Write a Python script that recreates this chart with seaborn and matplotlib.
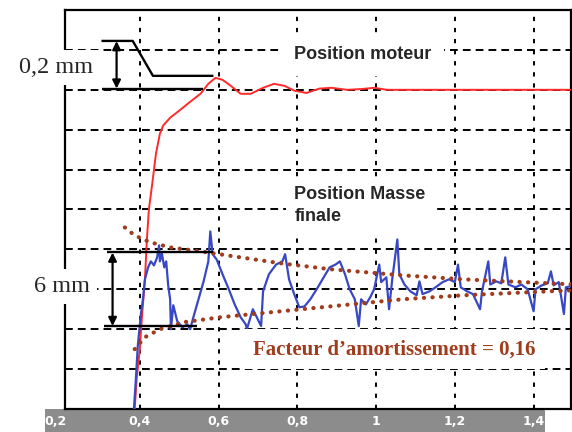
import matplotlib
matplotlib.use("Agg")
import matplotlib.pyplot as plt
import seaborn as sns
import numpy as np
import pandas as pd
from matplotlib.patches import Rectangle
from matplotlib.ticker import MultipleLocator, FixedLocator

# ---------------- data (time in s, position in grid divisions) ----------------
moteur_t = [0.387, 0.392, 0.400, 0.405, 0.413, 0.418, 0.423, 0.431, 0.441, 0.451,
            0.459, 0.477, 0.503, 0.528, 0.554, 0.574, 0.592, 0.610, 0.631, 0.656,
            0.682, 0.713, 0.741, 0.767, 0.792, 0.823, 0.856, 0.887, 0.926, 0.964,
            0.995, 1.028, 1.508]
moteur_y = [0.0, 0.75, 1.5, 2.25, 3.25, 4.25, 5.0, 5.6, 6.4, 6.9,
            7.1, 7.3, 7.5, 7.7, 7.9, 8.15, 8.3, 8.25, 8.1, 7.9,
            7.9, 8.05, 8.15, 8.1, 7.98, 7.92, 8.03, 8.05, 8.0, 8.02,
            8.05, 8.0, 8.0]

masse_t = [0.385, 0.390, 0.395, 0.403, 0.408, 0.413, 0.421, 0.428, 0.436, 0.444,
           0.449, 0.451, 0.456, 0.462, 0.467, 0.472, 0.477, 0.479, 0.485, 0.495,
           0.508, 0.521, 0.528, 0.536, 0.549, 0.562, 0.574, 0.579, 0.585, 0.595,
           0.610, 0.626, 0.641, 0.656, 0.669, 0.672, 0.687, 0.708, 0.713, 0.728,
           0.746, 0.762, 0.769, 0.779, 0.792, 0.805, 0.818, 0.833, 0.849, 0.867,
           0.882, 0.897, 0.908, 0.921, 0.933, 0.946, 0.956, 0.962, 0.974, 0.985,
           0.995, 1.008, 1.013, 1.026, 1.033, 1.041, 1.054, 1.059, 1.072, 1.087,
           1.103, 1.110, 1.118, 1.136, 1.151, 1.169, 1.185, 1.200, 1.208, 1.215,
           1.231, 1.246, 1.264, 1.269, 1.285, 1.290, 1.305, 1.318, 1.328, 1.336,
           1.354, 1.369, 1.385, 1.400, 1.405, 1.421, 1.436, 1.444, 1.451, 1.464,
           1.477, 1.482, 1.495, 1.508]
masse_y = [0.0, 0.75, 1.6, 2.4, 2.75, 3.25, 3.55, 3.7, 3.6, 3.8,
           4.1, 3.7, 3.9, 3.55, 3.7, 3.1, 2.75, 2.0, 2.6, 2.2,
           2.05, 2.12, 2.0, 2.3, 2.75, 3.2, 3.7, 4.45, 3.88, 3.75,
           3.38, 3.0, 2.62, 2.3, 2.12, 2.0, 2.5, 2.08, 2.95, 3.38,
           3.62, 3.7, 3.88, 3.25, 2.88, 2.55, 2.57, 2.75, 3.0, 3.3,
           3.55, 3.62, 3.7, 3.38, 3.0, 2.75, 2.08, 2.75, 2.62, 2.8,
           3.0, 3.62, 3.18, 3.3, 2.5, 3.25, 4.25, 3.38, 3.12, 2.95,
           2.85, 3.2, 2.88, 2.95, 3.05, 3.18, 3.25, 3.18, 3.62, 3.05,
           2.95, 2.88, 2.5, 2.95, 3.7, 3.12, 3.2, 3.15, 3.8, 3.12,
           3.05, 3.12, 3.0, 2.45, 3.0, 3.1, 3.15, 3.45, 3.1, 3.18,
           2.38, 3.05, 3.08, 3.02]

env_haut_t = [0.362, 0.387, 0.426, 0.477, 0.554, 0.656, 0.759, 0.887, 1.067, 1.221, 1.374, 1.508]
env_haut_y = [4.55, 4.35, 4.18, 4.05, 3.95, 3.8, 3.65, 3.5, 3.35, 3.25, 3.18, 3.12]
env_bas_t = [0.387, 0.413, 0.451, 0.515, 0.605, 0.759, 0.913, 1.067, 1.221, 1.374, 1.508]
env_bas_y = [1.5, 1.8, 2.0, 2.18, 2.3, 2.45, 2.6, 2.75, 2.85, 2.92, 2.98]

tick_vals = [0.4, 0.6, 0.8, 1.0, 1.2, 1.4]
tick_labels = ["0,4", "0,6", "0,8", "1", "1,2", "1,4"]

# ---------------- figure ----------------
sns.set_theme(style="white")
plt.rcParams['font.family'] = ['DejaVu Sans']

fig = plt.figure(figsize=(5.72, 4.32), dpi=100)
ax = fig.add_axes([65/572, 23/432, 506/572, 399/432])

GRID = dict(color="black", lw=1.4, zorder=1)
ax.set_xlim(0.21, 1.495)
ax.set_ylim(0, 10)
ax.xaxis.set_major_locator(FixedLocator(tick_vals))
ax.set_xticklabels(tick_labels)
ax.yaxis.set_major_locator(MultipleLocator(1))
ax.xaxis.grid(True, linestyle=(0, (2.2, 3.5)), **GRID)
ax.yaxis.grid(True, linestyle=(0, (4, 2.6)), **GRID)
ax.set_axisbelow(True)

red = "#ff2a2a"
blue = "#3848c4"
brown = "#a03c1c"

sns.lineplot(x=moteur_t, y=moteur_y, ax=ax, color=red, lw=1.4, estimator=None, zorder=3)
sns.lineplot(x=masse_t, y=masse_y, ax=ax, color=blue, lw=1.6, estimator=None, zorder=3)
for tt, yy in [(env_haut_t, env_haut_y), (env_bas_t, env_bas_y)]:
    sns.lineplot(x=tt, y=yy, ax=ax, color=brown, lw=3.0, estimator=None, zorder=4)
    line = ax.lines[-1]
    line.set_linestyle((0, (0.05, 2.0)))
    line.set_dash_capstyle("round")

for s in ax.spines.values():
    s.set_color("black")
    s.set_linewidth(1.6)

ax.set_yticklabels([])
ax.tick_params(axis="y", left=False, right=True, direction="in", length=3, width=1.2, color="black")
ax.tick_params(axis="x", which="major", length=0, pad=4, labelsize=9, labelcolor="white")
for lab in ax.get_xticklabels():
    lab.set_fontweight("bold")
ax.xaxis.set_minor_locator(MultipleLocator(0.04))
ax.tick_params(axis="x", which="minor", direction="out", length=16, width=2.2, color="#e8e8e8")
ax.set_xlabel("")
ax.set_ylabel("")

# gray tick strip
fig.patches.append(Rectangle((45/572, 0), 500/572, 23/432, transform=fig.transFigure,
                             facecolor="#8c8c8c", edgecolor="none", zorder=-1))
ax.text(0.185, -0.32, "0,2", color="white", fontsize=9, fontweight="bold",
        ha="center", va="center", clip_on=False)

# ---------------- annotations ----------------
blk = dict(color="black", lw=1.7, zorder=6, solid_capstyle="butt", clip_on=False)
# 0,2 mm
ax.text(0.187, 8.55, "0,2 mm", family="Liberation Serif", fontsize=17.5, ha="center", va="center",
        zorder=5, clip_on=False, bbox=dict(facecolor="white", edgecolor="none", pad=5))
ax.plot([0.3026, 0.382, 0.4333, 0.587], [9.225, 9.225, 8.35, 8.35], **blk)
ax.plot([0.305, 0.5615], [8.025, 8.025], **blk)
ax.annotate("", xy=(0.341, 8.03), xytext=(0.341, 9.22), zorder=6,
            arrowprops=dict(arrowstyle="<|-|>", color="black", lw=1.6, mutation_scale=12,
                            shrinkA=0, shrinkB=0))
# 6 mm
ax.text(0.202, 3.08, "6 mm", family="Liberation Serif", fontsize=17.5, ha="center", va="center",
        zorder=5, clip_on=False, bbox=dict(facecolor="white", edgecolor="none", pad=5))
ax.plot([0.3154, 0.587], [3.925, 3.925], **blk)
ax.plot([0.310, 0.546], [2.075, 2.075], **blk)
ax.annotate("", xy=(0.3308, 2.08), xytext=(0.3308, 3.92), zorder=6,
            arrowprops=dict(arrowstyle="<|-|>", color="black", lw=1.6, mutation_scale=12,
                            shrinkA=0, shrinkB=0))

# labels
ax.text(0.7923, 8.875, "Position moteur", family="Liberation Sans", fontweight="bold",
        fontsize=13, ha="left", va="center", zorder=5,
        bbox=dict(facecolor="white", edgecolor="none", pad=9))
ax.text(0.7923, 5.1, "Position Masse\nfinale", family="Liberation Sans", fontweight="bold",
        fontsize=13, ha="left", va="center", linespacing=1.45, zorder=5,
        bbox=dict(facecolor="white", edgecolor="none", pad=6))
ax.text(0.687, 1.5, "Facteur d\u2019amortissement = 0,16", family="Liberation Serif",
        fontweight="bold", fontsize=15, color=brown, ha="left", va="center", zorder=5,
        bbox=dict(facecolor="white", edgecolor="none", pad=7))

fig.savefig("out.png", dpi=100)
